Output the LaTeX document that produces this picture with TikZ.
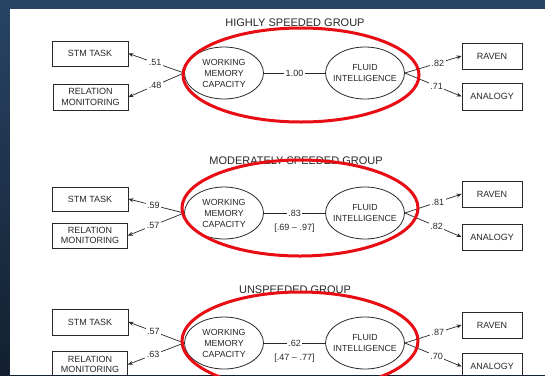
\documentclass[tikz,border=0pt]{standalone}
\usepackage{fontspec}
\setmainfont{Liberation Sans}
\usetikzlibrary{shapes.geometric,arrows.meta}
\definecolor{bgtop}{RGB}{40,68,100}
\definecolor{bgbot}{RGB}{18,32,48}
\definecolor{ink}{RGB}{40,40,40}
\definecolor{ringred}{RGB}{232,12,20}
\tikzset{
  box/.style={draw=ink, line width=0.8pt, rectangle, inner sep=0pt, minimum height=25pt,
    align=center, font=\fontsize{9}{10.7}\selectfont, text=ink},
  latent/.style={draw=ink, line width=0.8pt, ellipse, inner sep=-20pt, minimum width=79pt,
    minimum height=52pt, align=center, font=\fontsize{8.8}{11}\selectfont, text=ink},
  conn/.style={draw=ink, line width=0.7pt},
  arr/.style={conn, -{Stealth[length=5pt,width=4pt]}},
  lbl/.style={fill=white, inner sep=1.5pt, font=\fontsize{9}{10}\selectfont, text=ink},
  ci/.style={inner sep=0pt, font=\fontsize{9}{10}\selectfont, text=ink},
  ttl/.style={inner sep=0pt, font=\fontsize{11}{12}\selectfont, text=ink},
  ring/.style={draw=ringred, line width=3pt},
}
\begin{document}
\begin{tikzpicture}[x=1pt,y=-1pt]
\useasboundingbox (0,0) rectangle (545,375);
\clip (0,0) rectangle (545,375);
\shade[top color=bgtop, bottom color=bgbot] (0,0) rectangle (545,375);
\fill[white] (10,9) rectangle (545,375);

% ---------- HIGHLY SPEEDED GROUP ----------
\node[ttl] (tA) at (295,23) {HIGHLY SPEEDED GROUP};
\node[box, minimum width=76pt, minimum height=25pt] (stmA) at (90,53.5) {STM TASK};
\node[box, minimum width=75pt, minimum height=26pt] (relA) at (90.5,97) {RELATION\\MONITORING};
\node[latent] (wmcA) at (224,73) {WORKING\\MEMORY\\CAPACITY};
\node[latent] (fiA) at (365,73) {FLUID\\INTELLIGENCE};
\node[box, minimum width=60pt, minimum height=26pt] (ravA) at (492,56) {RAVEN};
\node[box, minimum width=60pt, minimum height=27pt] (anaA) at (492,96.5) {ANALOGY};
\draw[conn] (wmcA) -- node[lbl] {1.00} (fiA);
\draw[arr] (wmcA.west) -- node[lbl, pos=0.52] {.51} (stmA.east);
\draw[arr] (wmcA.west) -- node[lbl, pos=0.52] {.48} (relA.east);
\draw[arr] (fiA.east) -- node[lbl, pos=0.58] {.82} (ravA.west);
\draw[arr] (fiA.east) -- node[lbl, pos=0.56] {.71} (anaA.west);
\draw[ring] (301,75) ellipse [x radius=118, y radius=47];

% ---------- MODERATELY SPEEDED GROUP ----------
\node[ttl] (tB) at (296,160.5) {MODERATELY SPEEDED GROUP};
\node[box, minimum width=76pt, minimum height=24pt] (stmB) at (90,199) {STM TASK};
\node[box, minimum width=75pt, minimum height=25pt] (relB) at (90,235.5) {RELATION\\MONITORING};
\node[latent] (wmcB) at (224,213) {WORKING\\MEMORY\\CAPACITY};
\node[latent] (fiB) at (365,213) {FLUID\\INTELLIGENCE};
\node[box, minimum width=60pt, minimum height=26pt] (ravB) at (492,194) {RAVEN};
\node[box, minimum width=60pt, minimum height=26pt] (anaB) at (492,237) {ANALOGY};
\draw[conn] (wmcB) -- node[lbl] (cB) {.83} (fiB);
\node[ci] (ciB) at ([yshift=-15pt]cB.center) {[.69 – .97]};
\draw[arr] (wmcB.west) -- node[lbl, pos=0.55] {.59} (stmB.east);
\draw[arr] (wmcB.west) -- node[lbl, pos=0.55] {.57} (relB.east);
\draw[arr] (fiB.east) -- node[lbl, pos=0.58] {.81} (ravB.west);
\draw[arr] (fiB.east) -- node[lbl, pos=0.56] {.82} (anaB.west);
\draw[ring] (300,208) ellipse [x radius=118, y radius=48];

% ---------- UNSPEEDED GROUP ----------
\node[ttl] (tC) at (295,290) {UNSPEEDED GROUP};
\node[box, minimum width=76pt, minimum height=26pt] (stmC) at (90,322) {STM TASK};
\node[box, minimum width=75pt, minimum height=26pt] (relC) at (90,364.5) {RELATION\\MONITORING};
\node[latent] (wmcC) at (224,343) {WORKING\\MEMORY\\CAPACITY};
\node[latent] (fiC) at (365,343) {FLUID\\INTELLIGENCE};
\node[box, minimum width=60pt, minimum height=26pt] (ravC) at (492,325) {RAVEN};
\node[box, minimum width=60pt, minimum height=27pt] (anaC) at (492,366.5) {ANALOGY};
\draw[conn] (wmcC) -- node[lbl] (cC) {.62} (fiC);
\node[ci] (ciC) at ([yshift=-15pt]cC.center) {[.47 – .77]};
\draw[arr] (wmcC.west) -- node[lbl, pos=0.55] {.57} (stmC.east);
\draw[arr] (wmcC.west) -- node[lbl, pos=0.55] {.63} (relC.east);
\draw[arr] (fiC.east) -- node[lbl, pos=0.58] {.87} (ravC.west);
\draw[arr] (fiC.east) -- node[lbl, pos=0.56] {.70} (anaC.west);
\draw[ring] (300,341) ellipse [x radius=118, y radius=49];
\end{tikzpicture}
\end{document}
